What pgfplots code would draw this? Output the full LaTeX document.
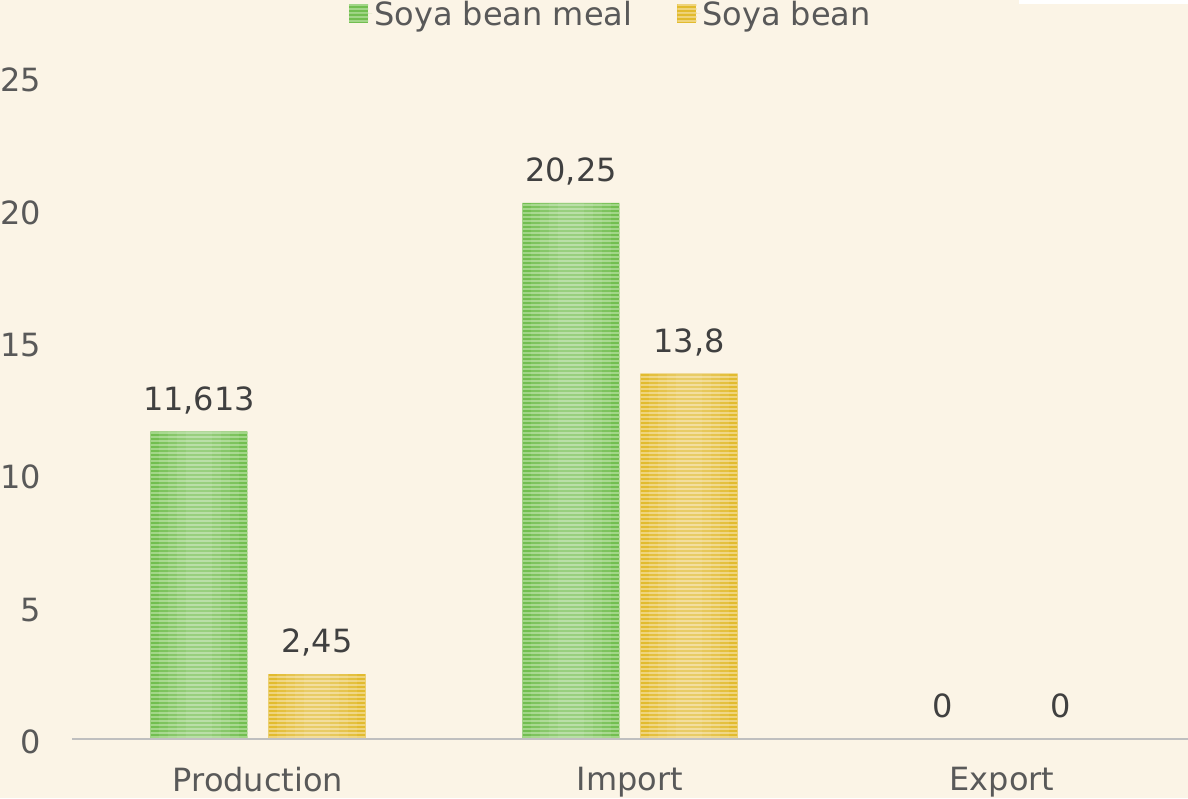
\documentclass[border=0pt]{standalone}
\usepackage{pgfplots}
\pgfplotsset{compat=1.18}
\usepackage{fontspec}
\setmainfont{DejaVu Sans}
\usetikzlibrary{patterns}
\definecolor{bg}{HTML}{FBF4E6}
\definecolor{gA}{HTML}{72BE50}
\definecolor{gS}{HTML}{A2D688}
\definecolor{yA}{HTML}{E2BB2E}
\definecolor{yS}{HTML}{EFD47C}
\definecolor{tickc}{HTML}{595959}
\definecolor{labc}{HTML}{404040}
\definecolor{axl}{HTML}{BFBFBF}
\pgfdeclarepatternformonly{hstripes}{\pgfpoint{-1pt}{0pt}}{\pgfpoint{201pt}{4pt}}{\pgfpoint{200pt}{4pt}}{%
  \pgfpathrectangle{\pgfpoint{-1pt}{0pt}}{\pgfpoint{202pt}{1.8pt}}\pgfusepath{fill}}
\begin{document}
\begin{tikzpicture}
\path[use as bounding box] (0,0) rectangle (1188pt,798pt);
\fill[bg] (0,0) rectangle (1188pt,798pt);
\fill[white] (1019pt,794pt) rectangle (1188pt,798pt);
\begin{axis}[
  at={(72pt,59pt)}, anchor=south west,
  scale only axis, width=1116pt, height=662pt,
  xmin=-0.5, xmax=2.5, ymin=0, ymax=25,
  ybar, bar width=97pt,
  axis line style={draw=none},
  major tick length=0pt, tick style={draw=none},
  xtick={0,1,2}, xticklabels={Production,Import,Export},
  ytick={0,5,10,15,20,25},
  /pgf/number format/assume math mode=true,
  ticklabel style={font=\fontsize{32}{38}\selectfont, text=tickc},
  yticklabel style={anchor=east, inner sep=0pt, xshift=-31pt, yshift=-3pt},
  xticklabel style={anchor=north, inner sep=0pt, yshift=-28pt},
  lbl/.style={nodes near coords, point meta=explicit symbolic,
    every node near coord/.append style={font=\fontsize{32}{38}\selectfont, text=labc, anchor=south, inner sep=0pt, text depth=0pt, yshift=21pt}},
  glow/.style={draw=none, fill=white, fill opacity=0.08, forget plot},
  legend columns=2,
  legend style={draw=none, fill=none, font=\fontsize{32}{38}\selectfont, text=tickc,
    at={(axis description cs:0.5,1)}, anchor=center, xshift=-19pt, yshift=63pt,
    /tikz/every even column/.append style={column sep=43pt}},
  legend cell align=left,
]
\addplot[draw=none, fill=gA, bar shift=-59pt, lbl,
  postaction={pattern=hstripes, pattern color=gS},
  legend image code/.code={\fill[gA] (0pt,-9.5pt) rectangle (19pt,9.5pt); \path (0pt,0pt) -- (23pt,0pt);}]
  coordinates {(0,11.613) [11,613] (1,20.25) [20,25]};
\addlegendentry{Soya bean meal}
\addplot[draw=none, fill=yA, bar shift=59pt, lbl,
  postaction={pattern=hstripes, pattern color=yS},
  legend image code/.code={\fill[yA] (0pt,-9.5pt) rectangle (19pt,9.5pt); \path (0pt,0pt) -- (23pt,0pt);}]
  coordinates {(0,2.45) [2,45] (1,13.8) [13,8]};
\addlegendentry{Soya bean}
% central glow
\addplot[glow, bar width=80pt, bar shift=-59pt] coordinates {(0,11.613) (1,20.25)};
\addplot[glow, bar width=62pt, bar shift=-59pt] coordinates {(0,11.613) (1,20.25)};
\addplot[glow, bar width=44pt, bar shift=-59pt] coordinates {(0,11.613) (1,20.25)};
\addplot[glow, bar width=26pt, bar shift=-59pt] coordinates {(0,11.613) (1,20.25)};
\addplot[glow, bar width=80pt, bar shift=59pt] coordinates {(0,2.45) (1,13.8)};
\addplot[glow, bar width=62pt, bar shift=59pt] coordinates {(0,2.45) (1,13.8)};
\addplot[glow, bar width=44pt, bar shift=59pt] coordinates {(0,2.45) (1,13.8)};
\addplot[glow, bar width=26pt, bar shift=59pt] coordinates {(0,2.45) (1,13.8)};
\addplot[draw=none, fill=none, bar shift=-59pt, forget plot, lbl] coordinates {(2,0) [0]};
\addplot[draw=none, fill=none, bar shift=59pt, forget plot, lbl] coordinates {(2,0) [0]};
\draw[axl, line width=3pt] (axis cs:-0.5,0) -- (axis cs:2.5,0);
\end{axis}
\end{tikzpicture}
\end{document}
